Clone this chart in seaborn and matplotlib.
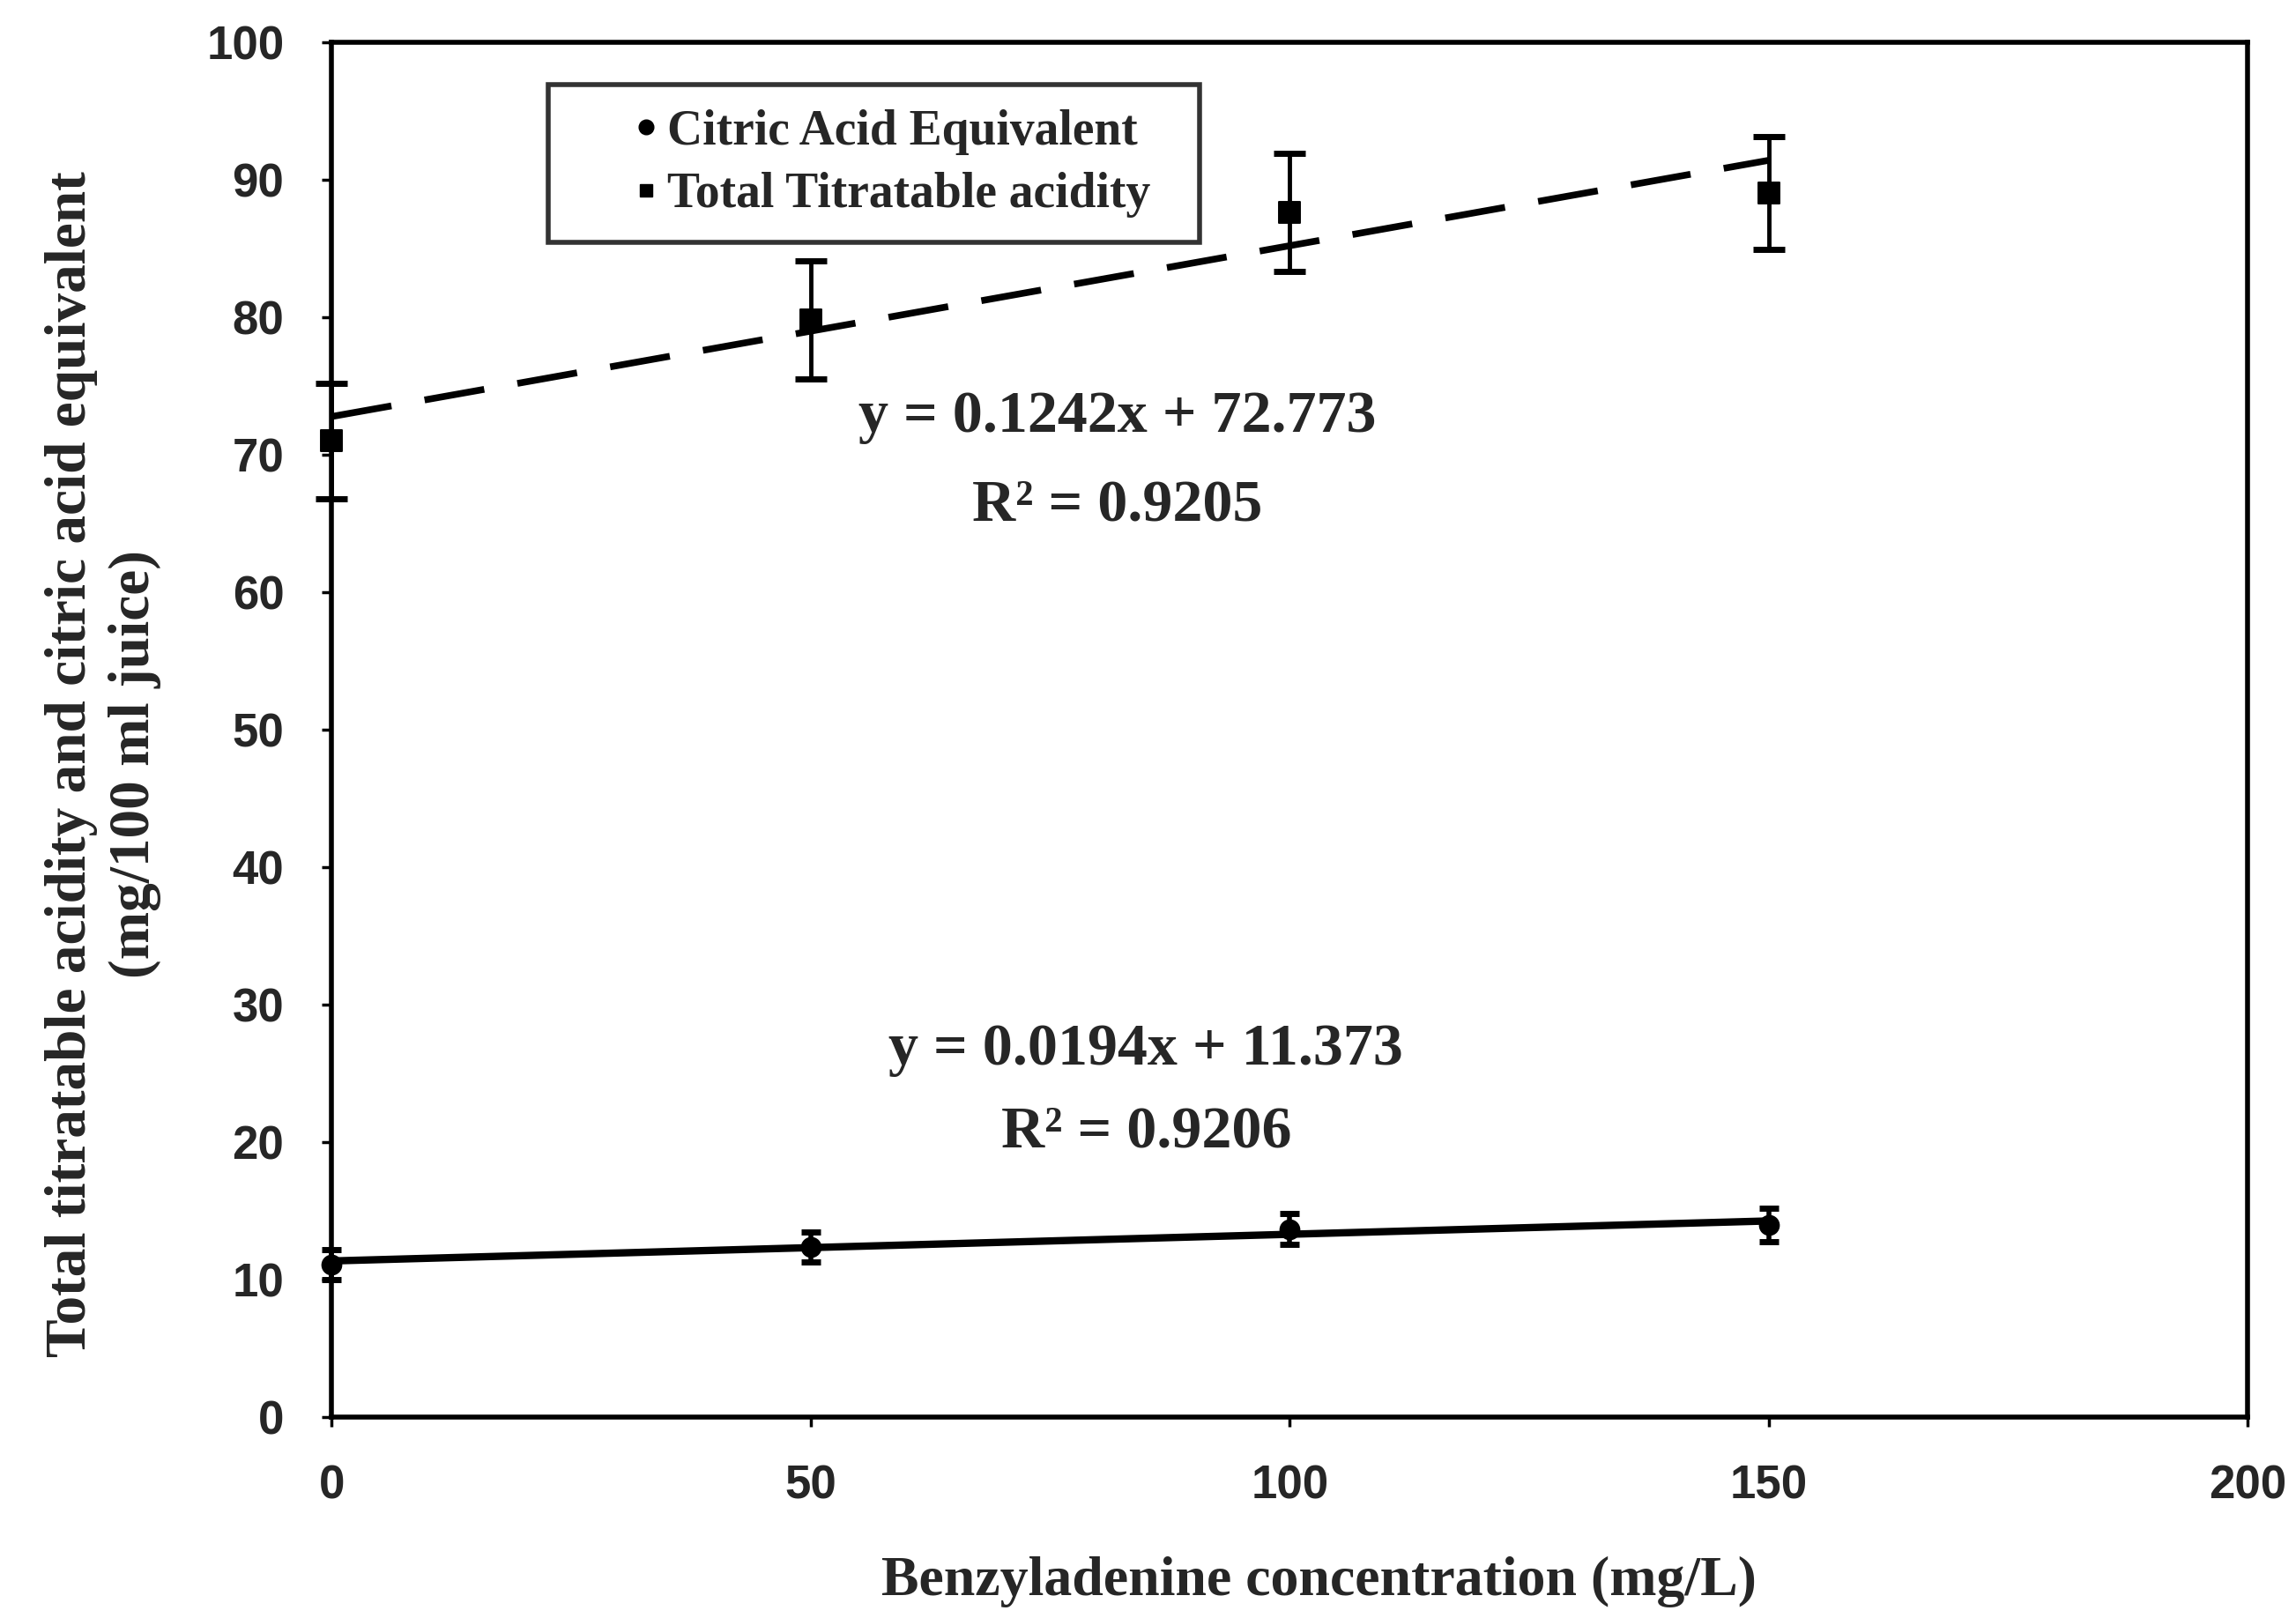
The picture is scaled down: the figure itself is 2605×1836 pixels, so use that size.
import numpy as np
import pandas as pd
import seaborn as sns
import matplotlib.pyplot as plt
from matplotlib.lines import Line2D

# data
ba_conc = [0, 50, 100, 150]
total_acidity = [71.0, 79.8, 87.6, 89.0]
total_acidity_err = [4.2, 4.3, 4.3, 4.1]
citric_equiv = [11.1, 12.4, 13.7, 14.0]
citric_equiv_err = [1.1, 1.1, 1.1, 1.2]

# trendline equations printed on the chart
tta_slope, tta_intercept, tta_r2 = 0.1242, 72.773, 0.9205
cae_slope, cae_intercept, cae_r2 = 0.0194, 11.373, 0.9206

x_ticks = [0, 50, 100, 150, 200]
y_ticks = [0, 10, 20, 30, 40, 50, 60, 70, 80, 90, 100]

sns.set_style("ticks")
serif = ["Liberation Serif", "DejaVu Serif"]
sans = ["Liberation Sans", "DejaVu Sans"]

fig = plt.figure(figsize=(26.05, 18.36), dpi=100)
ax = fig.add_axes([0.1445, 0.124, 0.8345, 0.850])

df = pd.DataFrame({"x": ba_conc, "tta": total_acidity, "cae": citric_equiv})
x_line = np.array([0, 150])
trend = pd.DataFrame({"x": x_line,
                      "tta": tta_intercept + tta_slope * x_line,
                      "cae": cae_intercept + cae_slope * x_line})

# trendlines
sns.lineplot(data=trend, x="x", y="tta", ax=ax, color="black", lw=5.5,
             zorder=2).lines[0].set_dashes([9, 5])
sns.lineplot(data=trend, x="x", y="cae", ax=ax, color="black", lw=6, zorder=2)

# error bars
eb1 = ax.errorbar(ba_conc, total_acidity, yerr=total_acidity_err, fmt="none",
                  ecolor="black", elinewidth=3.5, capsize=13, capthick=5, zorder=3)
eb2 = ax.errorbar(ba_conc, citric_equiv, yerr=citric_equiv_err, fmt="none",
                  ecolor="black", elinewidth=4, capsize=8, capthick=5, zorder=3)
for eb in (eb1, eb2):
    for art in eb.lines[1] + eb.lines[2]:
        art.set_clip_on(False)

# markers
sns.scatterplot(data=df, x="x", y="tta", ax=ax, marker="s", s=300,
                color="black", edgecolor="black", zorder=4, clip_on=False)
sns.scatterplot(data=df, x="x", y="cae", ax=ax, marker="o", s=250,
                color="black", edgecolor="black", zorder=4, clip_on=False)

ax.set_xlim(0, 200)
ax.set_ylim(0, 100)
ax.set_xticks(x_ticks)
ax.set_yticks(y_ticks)
ax.tick_params(axis="both", direction="out", length=8, width=2.5,
               labelsize=38, color="black")
ax.tick_params(axis="y", pad=31)
ax.tick_params(axis="x", pad=30)
for lab in ax.get_xticklabels() + ax.get_yticklabels():
    lab.set_family(sans)
    lab.set_fontweight("bold")

for side in ["left", "right", "top", "bottom"]:
    ax.spines[side].set_visible(True)
    ax.spines[side].set_color("black")
    ax.spines[side].set_linewidth(4)

ax.set_xlabel("Benzyladenine concentration (mg/L)", family=serif,
              fontsize=46, fontweight="bold")
ax.xaxis.set_label_coords(0.515, -0.101)
ax.set_ylabel("Total titratable acidity and citric acid equivalent\n(mg/100 ml juice)",
              family=serif, fontsize=47, fontweight="bold", linespacing=1.25)
ax.yaxis.set_label_coords(-0.089, 0.475)

# trendline labels
eq_font = dict(ha="center", va="center", family=serif, fontsize=49,
               fontweight="bold")
ax.text(82, 72.7, "y = %.4fx + %.3f" % (tta_slope, tta_intercept), **eq_font)
ax.text(82, 66.3, "R² = %.4f" % tta_r2, **eq_font)
ax.text(85, 26.7, "y = %.4fx + %.3f" % (cae_slope, cae_intercept), **eq_font)
ax.text(85, 20.7, "R² = %.4f" % cae_r2, **eq_font)

handles = [Line2D([], [], marker="o", color="black", ls="none", markersize=12),
           Line2D([], [], marker="s", color="black", ls="none", markersize=10)]
leg = ax.legend(handles, ["Citric Acid Equivalent   ", "Total Titratable acidity  "],
                loc="upper left", bbox_to_anchor=(0.113, 0.969), borderaxespad=0,
                frameon=True, fancybox=False, handletextpad=-1.07,
                handlelength=3.0, borderpad=0.5, labelspacing=0.35,
                prop={"family": serif, "size": 40, "weight": "bold"})
leg.get_frame().set_edgecolor("black")
leg.get_frame().set_linewidth(4)

fig.savefig("out.png", dpi=100, facecolor="white")
